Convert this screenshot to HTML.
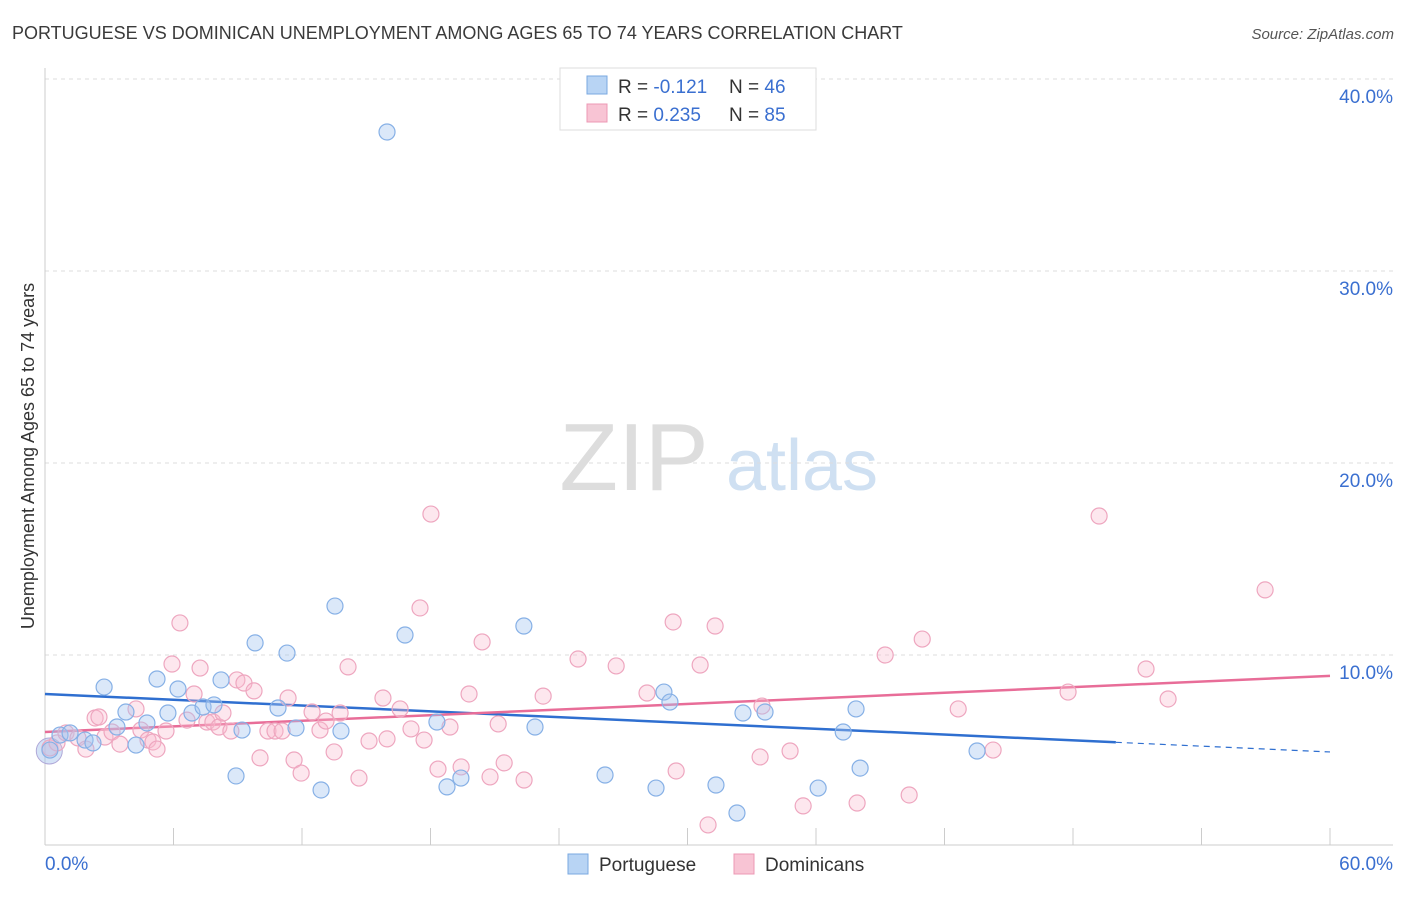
<!DOCTYPE html>
<html><head><meta charset="utf-8">
<style>
body{margin:0;background:#fff;font-family:"Liberation Sans",sans-serif;}
svg text{font-family:"Liberation Sans",sans-serif;}
</style></head>
<body>
<svg id="chart" width="1406" height="892" viewBox="0 0 1406 892" xmlns="http://www.w3.org/2000/svg">
<text x="12" y="39" font-size="18" fill="#3a3a3a">PORTUGUESE VS DOMINICAN UNEMPLOYMENT AMONG AGES 65 TO 74 YEARS CORRELATION CHART</text>
<text x="1394" y="39" font-size="15" fill="#555" font-style="italic" text-anchor="end">Source: ZipAtlas.com</text>
<g>
<text x="634" y="490" font-size="96" fill="#ddd" font-family="Liberation Serif" text-anchor="middle">ZIP</text>
<text x="802" y="490" font-size="72" fill="#cfe0f2" text-anchor="middle">atlas</text>
</g>
<g id="grid"></g>
<g id="axes"></g>
<g id="trends"></g>
<g id="points"></g>
<text transform="translate(34,456) rotate(-90)" font-size="18" fill="#333" text-anchor="middle">Unemployment Among Ages 65 to 74 years</text>
<g>
<rect x="560" y="68" width="256" height="62" fill="#fff" stroke="#ddd"/>
<rect x="587" y="76" width="20" height="18" fill="#b8d4f4" stroke="#7aa8e0"/>
<text x="618" y="93" font-size="19" fill="#333">R = <tspan fill="#3a6fd0">-0.121</tspan></text>
<text x="729" y="93" font-size="19" fill="#333">N = <tspan fill="#3a6fd0">46</tspan></text>
<rect x="587" y="104" width="20" height="18" fill="#f8c4d4" stroke="#ec98b4"/>
<text x="618" y="121" font-size="19" fill="#333">R = <tspan fill="#3a6fd0">0.235</tspan></text>
<text x="729" y="121" font-size="19" fill="#333">N = <tspan fill="#3a6fd0">85</tspan></text>
</g>
<g>
<rect x="568" y="854" width="20" height="20" fill="#b8d4f4" stroke="#7aa8e0"/>
<text x="599" y="871" font-size="19" fill="#333">Portuguese</text>
<rect x="734" y="854" width="20" height="20" fill="#f8c4d4" stroke="#ec98b4"/>
<text x="765" y="871" font-size="19" fill="#333">Dominicans</text>
</g>
</svg>
<script>
const yTicks=[10,20,30,40];
const yTickLabels=["10.0%","20.0%","30.0%","40.0%"];
const xTickVals=[6,12,18,24,30,36,42,48,54,60];
const xLabels=["0.0%","60.0%"];
const blueX=[0.23,0.70,1.17,1.87,2.24,2.76,3.36,3.78,4.25,4.76,5.23,5.74,6.21,6.86,7.38,7.89,8.22,8.92,9.20,9.81,10.88,11.30,11.72,12.89,13.54,13.82,16.81,18.30,18.77,19.42,22.36,22.88,26.15,28.53,28.90,29.18,31.33,32.31,32.59,33.62,36.10,37.27,37.87,38.06,43.52,15.97];
const blueY=[5.05,5.83,5.94,5.57,5.42,8.33,6.25,7.03,5.31,6.46,8.75,6.98,8.23,6.98,7.29,7.40,8.70,3.70,6.09,10.63,7.24,10.10,6.20,2.97,12.55,6.04,11.04,6.51,3.13,3.59,11.51,6.25,3.75,3.07,8.07,7.55,3.23,1.77,6.98,7.03,3.07,5.99,7.19,4.11,5.00,37.24];
const pinkX=[0.23,0.56,0.98,1.54,1.91,2.34,2.52,2.80,3.13,3.50,4.25,4.48,4.81,5.04,5.23,5.65,5.93,6.30,6.63,6.96,7.24,7.56,7.84,8.12,8.31,8.68,8.96,9.29,9.76,10.04,10.41,10.74,11.07,11.35,11.63,11.96,12.47,12.84,13.12,13.50,13.78,14.15,14.66,15.13,15.78,15.97,16.58,17.09,17.51,17.70,18.02,18.35,18.91,19.43,19.80,20.41,20.78,21.16,21.44,22.37,23.26,24.89,26.67,28.11,29.33,29.47,30.59,30.96,31.29,33.39,33.48,34.79,35.40,37.92,39.23,40.35,40.96,42.64,44.27,47.77,49.22,51.41,52.44,56.97];
const pinkY=[5.16,5.42,5.94,5.68,5.10,6.72,6.77,5.73,5.99,5.36,7.19,6.09,5.57,5.47,5.10,6.04,9.53,11.67,6.61,7.97,9.32,6.51,6.51,6.25,6.98,6.04,8.70,8.54,8.13,4.64,6.04,6.04,6.04,7.76,4.53,3.85,7.03,6.09,6.56,4.95,6.98,9.38,3.59,5.52,7.76,5.63,7.19,6.15,12.45,5.57,17.34,4.06,6.25,4.17,7.97,10.68,3.65,6.41,4.38,3.49,7.86,9.79,9.43,8.02,11.72,3.96,9.48,1.15,11.51,4.69,7.34,5.00,2.14,2.29,10.00,2.71,10.83,7.19,5.05,8.07,17.24,9.27,7.71,13.39];
const blueTrend=[7.97,4.95];
const blueSolidEnd=50;
const pinkTrend=[5.99,8.91];

const NS="http://www.w3.org/2000/svg";
const X=v=>45+v/60*1285;
const Y=v=>847-v*19.2;
function mk(tag,attrs,parent){const e=document.createElementNS(NS,tag);for(const k in attrs)e.setAttribute(k,attrs[k]);parent.appendChild(e);return e;}
const grid=document.getElementById('grid'),axes=document.getElementById('axes'),trends=document.getElementById('trends'),pts=document.getElementById('points');
yTicks.forEach((t,i)=>{
 const l=mk('line',{x1:45,x2:1393,y1:Y(t),y2:Y(t),stroke:'#ddd','stroke-dasharray':'4,4'},grid);
 
 
 const tx=mk('text',{x:1393,y:Y(t)+24,'font-size':19,fill:'#3a6fd0','text-anchor':'end'},axes);
 tx.textContent=yTickLabels[i];
 
 
});
let a=mk('line',{x1:45,x2:45,y1:68,y2:845,stroke:'#ccc'},axes);


a=mk('line',{x1:45,x2:1393,y1:845,y2:845,stroke:'#ccc'},axes);


xTickVals.forEach(v=>{
 const t=mk('line',{x1:X(v),x2:X(v),y1:828,y2:845,stroke:'#ccc'},axes);
 
 
});
let xl=mk('text',{x:45,y:870,'font-size':19,fill:'#3a6fd0'},axes);xl.textContent=xLabels[0];


xl=mk('text',{x:1393,y:870,'font-size':19,fill:'#3a6fd0','text-anchor':'end'},axes);xl.textContent=xLabels[1];



function drawPts(xs,ys,fill,stroke,name){
 xs.forEach((x,i)=>{
  const c=mk('circle',{cx:X(x),cy:Y(ys[i]),r:8,fill:fill,stroke:stroke,'stroke-width':1.2},pts);
  
  
 });
}
let big=mk('circle',{cx:X(0.2),cy:Y(5.0),r:13,fill:'rgba(160,190,235,0.45)',stroke:'#b0a8d8'},pts);


drawPts(pinkX,pinkY,'rgba(248,185,205,0.35)','#eea6bf','point-dominicans');
drawPts(blueX,blueY,'rgba(165,198,240,0.4)','#86b0e6','point-portuguese');

const bAt=v=>blueTrend[0]+(blueTrend[1]-blueTrend[0])*v/60;
let tl=mk('line',{x1:X(0),y1:Y(bAt(0)),x2:X(blueSolidEnd),y2:Y(bAt(blueSolidEnd)),stroke:'#2f6fd0','stroke-width':2.5},trends);


tl=mk('line',{x1:X(blueSolidEnd),y1:Y(bAt(blueSolidEnd)),x2:X(60),y2:Y(bAt(60)),stroke:'#2f6fd0','stroke-width':1.2,'stroke-dasharray':'6,5'},trends);


tl=mk('line',{x1:X(0),y1:Y(pinkTrend[0]),x2:X(60),y2:Y(pinkTrend[1]),stroke:'#e86d98','stroke-width':2.5},trends);


</script>
</body></html>
